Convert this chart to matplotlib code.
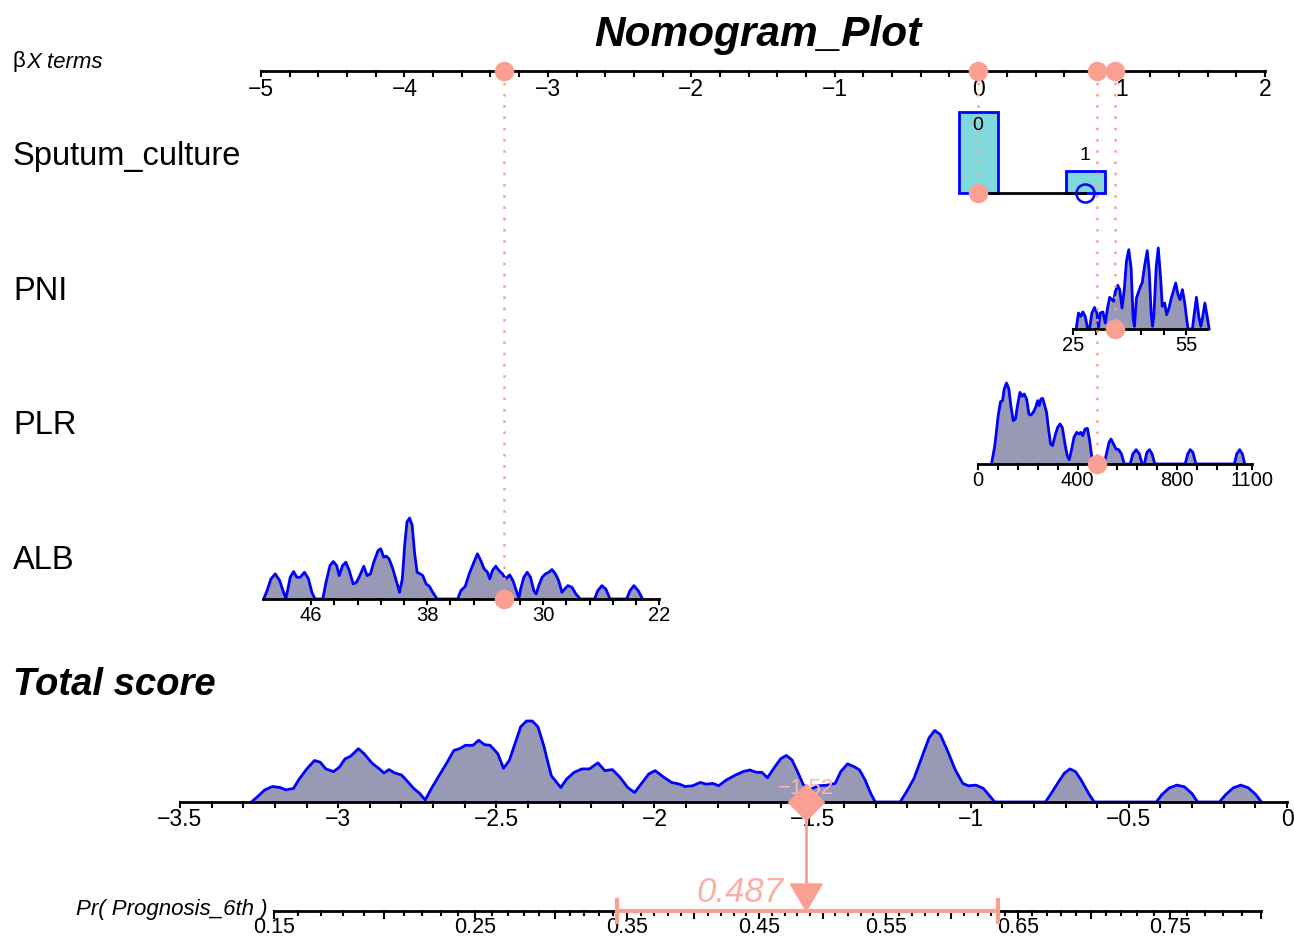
import numpy as np
import matplotlib
matplotlib.use("Agg")
import matplotlib.pyplot as plt
from matplotlib.patches import Rectangle, Polygon

plt.rcParams['font.family'] = ['Liberation Sans', 'DejaVu Sans']

# ---------------- data ----------------
title = "Nomogram_Plot"
var_names = ["Sputum_culture", "PNI", "PLR", "ALB"]

# model coefficients (beta X per unit)
coef_sputum = [0.0, 0.746]       # level 0, level 1
coef_pni = 0.0264
coef_plr = 0.001735
coef_alb = -0.1011
intercept = 1.468

# patient values
pat_sputum = 0
pat_pni = 36.2
pat_plr = 478
pat_alb = 32.7
total_score = -1.52
pred_prob = 0.487
ci_low, ci_high = 0.343, 0.635

# sputum culture frequencies
sputum_levels = ["0", "1"]
sputum_freq = [0.79, 0.21]

# PNI density (relative)
pni_x = [25.88, 26.50, 27.12, 27.65, 28.27, 28.89, 29.42, 30.04, 30.75, 31.37, 31.81, 32.26,
         32.96, 33.58, 34.20, 34.73, 35.35, 35.80, 36.24, 36.86, 37.39, 38.01, 38.63, 39.16,
         39.78, 40.40, 40.93, 41.28, 41.81, 42.43, 42.88, 43.32, 43.94, 44.65, 45.18, 45.71,
         46.06, 46.42, 47.04, 47.57, 48.19, 48.63, 49.25, 49.78, 50.40, 51.02, 51.55, 52.17,
         52.79, 53.32, 53.94, 54.56, 55.09, 55.44, 56.59, 57.04, 57.65, 58.27, 58.81, 59.25,
         59.87, 60.40, 61.02]
pni_h = [0, 0.198, 0.156, 0.210, 0.156, 0.012, 0, 0.198, 0.267, 0.198, 0.021, 0.198,
         0.210, 0.074, 0.267, 0.391, 0.362, 0.342, 0.465, 0.539, 0.486, 0.259, 0.506, 0.835,
         0.979, 0.753, 0.136, 0.033, 0.383, 0.465, 0.527, 0.568, 0.774, 0.967, 0.712, 0.177,
         0.033, 0.177, 0.774, 1.0, 0.630, 0.280, 0.321, 0.177, 0.259, 0.383, 0.465, 0.568,
         0.423, 0.362, 0.486, 0.321, 0.115, 0, 0, 0.177, 0.391, 0.156, 0.033, 0.136,
         0.321, 0.177, 0]
pni_range = [25, 60.5]
pni_ticks = [25, 31, 37, 43, 49, 55]
pni_labels = ["25", "", "", "", "", "55"]

# PLR density (relative)
plr_x = [53.7, 67, 80.5, 90, 98, 104.7, 114, 123.5, 131.5, 141, 150, 158, 168, 177, 185, 195,
         204, 212, 221.5, 231, 239, 245.6, 252, 259, 265.8, 275, 282, 291, 299, 309, 319.5, 329,
         338, 349, 358, 366, 376, 385, 396, 405, 412, 420, 429.5, 439, 447, 456, 466, 506, 517,
         526, 534, 544, 554, 565, 576, 587, 611, 621.5, 635, 648, 659, 668, 678, 688.6, 699, 710,
         832, 842, 852, 863, 875, 1029.5, 1039, 1051, 1062, 1071]
plr_zy = [285, 230, 140, 98, 95, 60, 42, 60, 110, 155, 150, 110, 70, 82, 75, 90,
          135, 138, 130, 115, 95, 110, 90, 88, 105, 130, 175, 225, 230, 200, 175, 165,
          175, 225, 260, 272, 240, 205, 190, 195, 190, 200, 180, 178, 210, 260, 285, 285, 250,
          220, 210, 225, 240, 242, 255, 285, 285, 255, 242, 255, 285, 285, 250, 242, 255, 285,
          285, 255, 242, 250, 285, 285, 255, 242, 255, 285]
plr_h = [(285 - v) / 243 for v in plr_zy]
plr_range = [0, 1100]
plr_ticks = list(range(0, 1100, 80)) + [1100]
plr_labels = {0: "0", 400: "400", 800: "800", 1100: "1100"}

# ALB density (relative)
alb_x = [49.27, 49.04, 48.77, 48.47, 48.17, 47.90, 47.74, 47.60, 47.44, 47.21, 46.98, 46.75,
         46.46, 46.18, 45.95, 45.73, 45.20, 44.97, 44.70, 44.47, 44.24, 44.06, 43.83, 43.60,
         43.37, 43.10, 42.87, 42.59, 42.37, 42.14, 41.91, 41.68, 41.38, 41.20, 40.99, 40.81,
         40.63, 40.40, 40.13, 39.90, 39.71, 39.55, 39.39, 39.21, 39.03, 38.87, 38.69, 38.48,
         38.30, 38.07, 37.84, 37.61, 37.31, 35.90, 35.67, 35.37, 35.10, 34.82, 34.53, 34.30,
         34.07, 33.84, 33.68, 33.50, 33.27, 33.04, 32.81, 32.58, 32.31, 32.08, 31.85, 31.67,
         31.55, 31.33, 31.10, 30.87, 30.64, 30.48, 30.30, 30.07, 29.84, 29.61, 29.39, 29.15,
         28.93, 28.70, 28.51, 28.29, 28.01, 27.74, 27.44, 26.46, 26.23, 25.95, 25.68, 25.38,
         24.24, 24.01, 23.74, 23.44, 23.14]
alb_zy = [270, 245, 210, 195, 215, 250, 268, 240, 205, 188, 205, 205,
          190, 210, 250, 270, 270, 220, 170, 158, 170, 200, 170, 160,
          185, 225, 220, 195, 172, 200, 195, 160, 125, 120, 145, 142,
          150, 175, 215, 250, 210, 110, 40, 28, 50, 130, 190, 195,
          200, 225, 232, 250, 270, 270, 245, 232, 195, 165, 135, 155,
          180, 190, 210, 185, 172, 185, 195, 210, 198, 215, 245, 268,
          240, 205, 190, 205, 245, 255, 230, 205, 195, 190, 182, 195,
          215, 250, 240, 230, 235, 255, 270, 270, 245, 230, 240, 270,
          270, 245, 230, 245, 270]
alb_h = [(270 - v) / 242 for v in alb_zy]
alb_range = [22, 49.3]
alb_ticks = [22 + 1.6 * k for k in range(16)]
alb_labels = {46: "46", 38: "38", 30: "30", 22: "22"}

# Total score density (relative): readings from two zoomed views
ts6_zx = [265, 285, 300, 320, 340, 355, 375, 390, 410, 430, 445, 460, 480, 495, 510, 525, 545,
          560, 580, 600, 612, 625, 640, 658, 672, 690, 705, 720, 735, 755, 775, 795, 810, 825,
          845, 860, 875, 890, 910, 925, 940, 955, 970, 985, 1000, 1015, 1030, 1050, 1075, 1090,
          1110, 1130, 1150, 1172, 1190, 1210, 1230, 1250, 1268, 1285, 1305, 1322, 1345, 1365,
          1385, 1400, 1420, 1440, 1455]
ts6_zy = [308, 288, 272, 262, 265, 272, 268, 240, 210, 185, 190, 210, 218, 205, 180, 172, 150,
          165, 192, 210, 222, 212, 222, 228, 245, 268, 282, 302, 270, 232, 195, 155, 150, 140,
          140, 125, 138, 140, 165, 208, 185, 135, 85, 68, 68, 85, 140, 230, 265, 240,
          220, 210, 210, 192, 215, 212, 235, 265, 280, 255, 225, 215, 235, 250,
          255, 262, 260, 250, 255]
ts7_zx = [20, 35, 55, 80, 100, 118, 135, 150, 165, 185, 200, 215, 230, 245, 260, 275, 300, 325,
          345, 360, 378, 395, 410, 425, 440, 452, 518, 535, 555, 575, 595, 610, 625, 645, 665,
          685, 700, 720, 740, 755, 770, 905, 920, 940, 955, 970, 985, 1000, 1020, 1035, 1200,
          1215, 1235, 1255, 1275, 1295, 1310, 1368, 1385, 1405, 1425, 1445, 1465, 1480]
ts7_zy = [255, 262, 245, 230, 220, 215, 222, 222, 238, 205, 182, 172, 185, 220, 258, 275, 262, 260,
          255, 220, 197, 205, 215, 245, 285, 310, 310, 280, 240, 180, 120, 98, 110, 160, 215,
          255, 262, 260, 270, 290, 310, 310, 285, 250, 225, 212, 220, 245, 285, 310, 310,
          288, 268, 260, 265, 285, 310, 310, 288, 268, 260, 268, 288, 310]
ts_x = [-3.5 + (v - 78) / 828 for v in ts6_zx] + [-1.5 + (v - 285) / 842 for v in ts7_zx]
ts_h = [(308 - v) / 240 for v in ts6_zy] + [(310 - v) / 240 for v in ts7_zy]

bx_ticks_major = [-5, -4, -3, -2, -1, 0, 1, 2]
ts_ticks_major = [-3.5, -3, -2.5, -2, -1.5, -1, -0.5, 0]
prob_major = [0.15, 0.25, 0.35, 0.45, 0.55, 0.65, 0.75]
prob_range = [0.15, 0.80]

# ---------------- style ----------------
SALMON = '#F9A093'
FILL = '#9799B5'
BLUE = '#0000FF'
BAR = '#80D8DC'
W, Hpx = 1294, 937
fig = plt.figure(figsize=(W / 100, Hpx / 100), dpi=100)

def fx(px):
    return px / W

def fy(py):
    return 1 - py / Hpx

ax = fig.add_axes([fx(261), 0, fx(1265) - fx(261), 1])
ax.set_xlim(-5, 2)
ax.set_ylim(Hpx, 0)
ax.axis('off')

ax2 = fig.add_axes([fx(180), 0, fx(1287) - fx(180), 1])
ax2.set_xlim(-3.5, 0)
ax2.set_ylim(Hpx, 0)
ax2.axis('off')

def minus(s):
    return s.replace('-', '\u2212')

# ---- top beta X axis ----
Y_TOP = 72
ax.plot([-5, 2], [Y_TOP, Y_TOP], color='black', lw=2, clip_on=False)
for t in np.arange(-5, 2.0001, 0.2):
    ax.plot([t, t], [Y_TOP, Y_TOP + 5], color='black', lw=1.5, clip_on=False)
for t in bx_ticks_major:
    ax.text(t, Y_TOP + 18, minus(str(t)), ha='center', va='center', fontsize=16.5, clip_on=False)

fig.text(fx(758), fy(35), title, ha='center', va='center', fontsize=30.5,
         fontweight='bold', fontstyle='italic')
fig.text(fx(13), fy(62), "\u03b2", ha='left', va='center', fontsize=16)
fig.text(fx(26), fy(62), "X terms", ha='left', va='center', fontsize=16, fontstyle='italic')

row_y = {"Sputum_culture": 156, "PNI": 291, "PLR": 426, "ALB": 561}
for name in var_names:
    fig.text(fx(13), fy(row_y[name]), name, ha='left', va='center', fontsize=23.5)

DH = 81  # density height px

# ---- Sputum culture ----
Y_SP = 194
bar_w = 0.27
maxf = max(sputum_freq)
sp_x = [coef_sputum[0], coef_sputum[1]]
ax.plot([sp_x[0], sp_x[1]], [Y_SP, Y_SP], color='black', lw=2, zorder=2)
for xv, f, lab, ly in zip(sp_x, sputum_freq, sputum_levels, [126, 156]):
    h = f / maxf * DH
    ax.add_patch(Rectangle((xv - bar_w / 2, Y_SP - h), bar_w, h, facecolor=BAR,
                           edgecolor=BLUE, lw=2, zorder=1))
    ax.text(xv, ly, lab, ha='center', va='center', fontsize=14, zorder=5)
ax.plot([sp_x[1]], [Y_SP], marker='o', ms=13, mfc='none', mec=BLUE, mew=1.8, zorder=3)

# ---- density rows helper ----
def density_row(xs, hs, coef, base, rng, ticks, labels, tick_len=5):
    bx = np.array(xs) * coef
    yy = base - np.array(hs) * DH
    ax.fill_between(bx, base, yy, color=FILL, lw=0, zorder=1)
    ax.plot(bx, yy, color=BLUE, lw=2, zorder=2)
    ax.plot([rng[0] * coef, rng[1] * coef], [base, base], color='black', lw=2, zorder=3)
    for t in ticks:
        ax.plot([t * coef, t * coef], [base, base + tick_len], color='black', lw=1.5, zorder=3)
    for t, s in labels.items():
        ax.text(t * coef, base + 16, s, ha='center', va='center', fontsize=14.5)

Y_PNI, Y_PLR, Y_ALB = 330, 465, 600
density_row(pni_x, pni_h, coef_pni, Y_PNI, pni_range, pni_ticks,
            {t: s for t, s in zip(pni_ticks, pni_labels) if s})
density_row(plr_x, plr_h, coef_plr, Y_PLR, plr_range, plr_ticks, plr_labels)
density_row(alb_x, alb_h, coef_alb, Y_ALB, alb_range, alb_ticks, alb_labels)

# ---- patient points & dotted connectors ----
pts = [(coef_sputum[pat_sputum], Y_SP), (pat_pni * coef_pni, Y_PNI),
       (pat_plr * coef_plr, Y_PLR), (pat_alb * coef_alb, Y_ALB)]
for xv, yv in pts:
    ax.plot([xv, xv], [Y_TOP, yv], color=SALMON, lw=1.8, ls=(0, (1, 3.5)), zorder=4)
    ax.plot([xv], [yv], marker='o', ms=13, color=SALMON, zorder=6)
    ax.plot([xv], [Y_TOP], marker='o', ms=13, color=SALMON, zorder=6, clip_on=False)

# ---- Total score ----
fig.text(fx(13), fy(685), "Total score", ha='left', va='center', fontsize=27.5,
         fontweight='bold', fontstyle='italic')
Y_TS = 803
ax2.fill_between(ts_x, Y_TS, Y_TS - np.array(ts_h) * DH, color=FILL, lw=0, zorder=1)
ax2.plot(ts_x, Y_TS - np.array(ts_h) * DH, color=BLUE, lw=2, zorder=2)
ax2.plot([-3.5, 0], [Y_TS, Y_TS], color='black', lw=2, zorder=3, clip_on=False)
for t in np.arange(-3.5, 0.0001, 0.1):
    ax2.plot([t, t], [Y_TS, Y_TS + 5], color='black', lw=1.5, zorder=3, clip_on=False)
for t in ts_ticks_major:
    s = minus(('%g' % t))
    ax2.text(t, Y_TS + 17, s, ha='center', va='center', fontsize=16.5, clip_on=False)

ax2.text(total_score, Y_TS - 14, minus('%.2f' % total_score), ha='center', va='center',
         fontsize=16, color='#FBB5AA', zorder=4)
ax2.plot([total_score], [Y_TS], marker='D', ms=18, color=SALMON, zorder=6)

# ---- probability axis ----
def p2s(p):
    p = np.asarray(p, dtype=float)
    return np.log(p / (1 - p)) - intercept

Y_PR = 912
ax2.plot([p2s(prob_range[0]), p2s(prob_range[1])], [Y_PR, Y_PR], color='black', lw=2, zorder=3)
for p in np.arange(0.15, 0.8001, 0.01):
    L = 7 if abs(round(p * 100) % 5) == 0 else 4
    ax2.plot([p2s(p), p2s(p)], [Y_PR, Y_PR + L], color='black', lw=1.5, zorder=3)
for p in prob_major:
    ax2.text(p2s(p), Y_PR + 16, '%g' % p, ha='center', va='center', fontsize=15.5)
fig.text(fx(268), fy(910), "Pr( Prognosis_6th )", ha='right', va='center', fontsize=16,
         fontstyle='italic')

# CI and arrow
ax2.plot([p2s(ci_low), p2s(ci_high)], [Y_PR, Y_PR], color=SALMON, lw=3, zorder=5)
for c in [ci_low, ci_high]:
    ax2.plot([p2s(c), p2s(c)], [Y_PR - 11, Y_PR + 11], color=SALMON, lw=3, zorder=5)
ax2.plot([total_score, total_score], [Y_TS, Y_PR - 26], color=SALMON, lw=2, zorder=5)
tri = Polygon([[total_score - 0.05, Y_PR - 27], [total_score + 0.05, Y_PR - 27],
               [total_score, Y_PR]], closed=True, color=SALMON, zorder=6)
ax2.add_patch(tri)
ax2.text(total_score - 0.07, Y_PR - 19, '%.3f' % pred_prob, ha='right', va='center',
         fontsize=25, fontstyle='italic', color='#FBB0A5', zorder=6)

fig.savefig('out.png', dpi=100)
